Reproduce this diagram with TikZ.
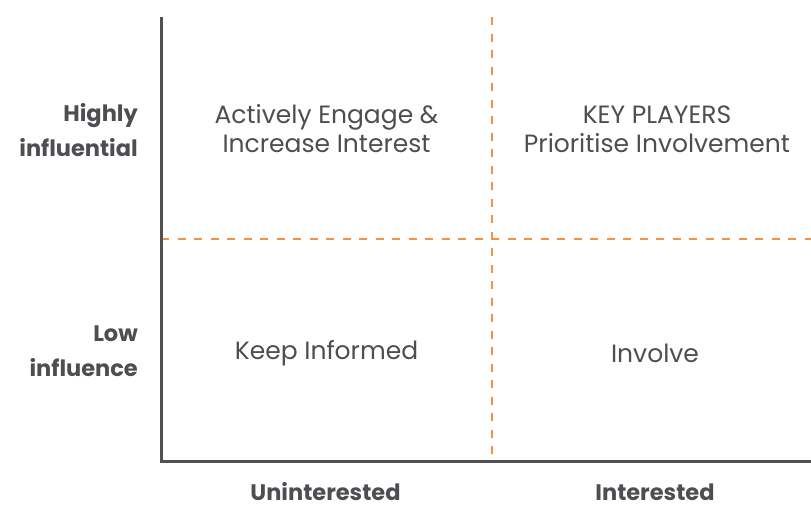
\documentclass[tikz,border=0pt]{standalone}
\usepackage{fontspec}
\setmainfont{Poppins}
\definecolor{axisgray}{HTML}{505055}
\definecolor{textgray}{HTML}{4D4D52}
\definecolor{divorange}{HTML}{F7913F}
\tikzset{
  axisline/.style={draw=axisgray, line width=3pt},
  divider/.style={draw=divorange, line width=2.5pt, dash pattern=on 8pt off 8.5pt},
  quadtext/.style={text=textgray, align=center, font=\fontsize{25}{29}\selectfont, inner sep=0pt},
  ylabel/.style={text=textgray, align=right, anchor=east, font=\bfseries\fontsize{22.5}{35}\selectfont, inner sep=0pt},
  xlabel/.style={text=textgray, font=\bfseries\fontsize{22.5}{25}\selectfont, inner sep=0pt}
}
\begin{document}
\begin{tikzpicture}[x=1pt,y=-1pt]
\useasboundingbox (0,0) rectangle (811,504);
\coordinate (otop) at (161,17);
\coordinate (ocorner) at (161,461);
\coordinate (xend) at (811,461);
\coordinate (vtop) at (492,17);
\coordinate (vbot) at (492,461);
\coordinate (hleft) at (161,239);
\coordinate (hright) at (811,239);
\draw[divider] (vtop) -- (vbot);
\draw[divider] (hleft) -- (hright);
\draw[axisline] (otop) -- (ocorner) -- (xend);
\node[quadtext] (ul) at (326.5,129) {Actively Engage \&\\Increase Interest};
\node[quadtext] (ur) at (657,129) {KEY PLAYERS\\Prioritise Involvement};
\node[quadtext] (ll) at (326.5,353) {Keep Informed};
\node[quadtext] (lr) at (655,353) {Involve};
\node[ylabel] (yhigh) at (138,130) {Highly\\influential};
\node[ylabel] (ylow) at (138,351) {Low\\influence};
\node[xlabel] (xun) at (325.5,492) {Uninterested};
\node[xlabel] (xin) at (655,492) {Interested};
\end{tikzpicture}
\end{document}
